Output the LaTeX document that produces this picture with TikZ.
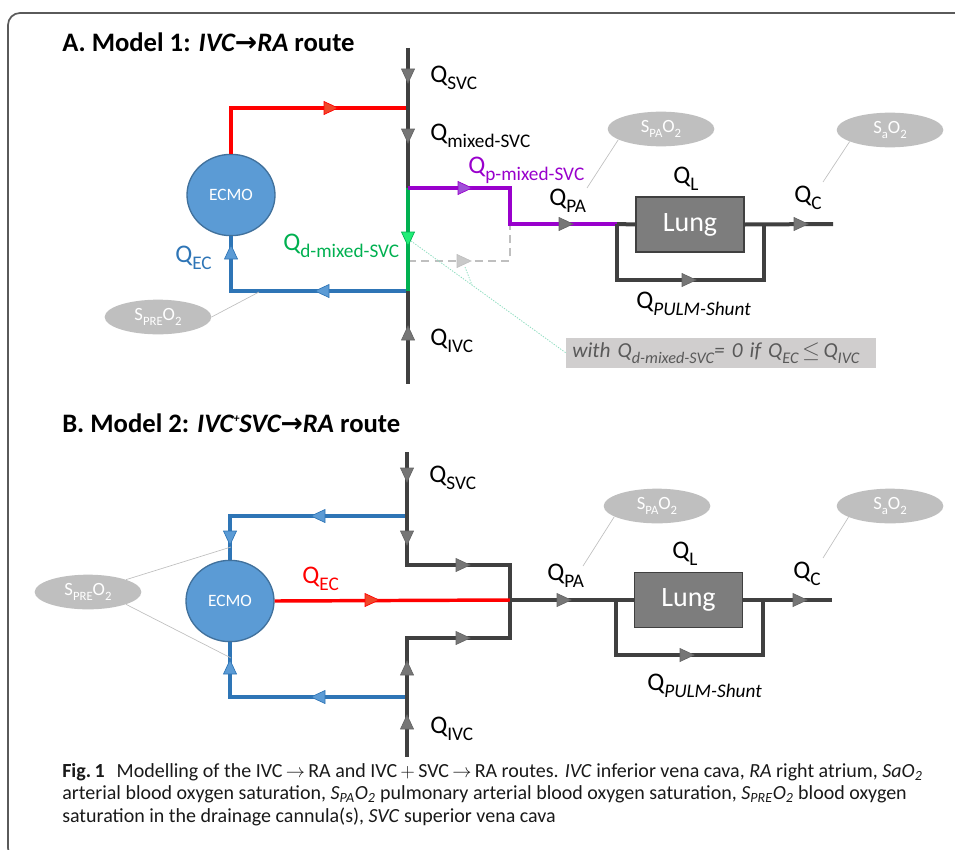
\documentclass[tikz,border=0pt]{standalone}
\usepackage{fontspec}
\setmainfont{Carlito}
\newfontfamily\symfont{DejaVu Sans}
\usepackage{graphicx}
\usepackage{tikz}
\usetikzlibrary{shapes.geometric,calc}
\definecolor{vesselgray}{HTML}{404040}
\definecolor{headgray}{HTML}{767676}
\definecolor{ecmored}{HTML}{FF0000}
\definecolor{redhead}{HTML}{F0472A}
\definecolor{drainblue}{HTML}{2E75B6}
\definecolor{ecmofill}{HTML}{5B9BD5}
\definecolor{ecmoedge}{HTML}{41719C}
\definecolor{mixpurple}{HTML}{9900CC}
\definecolor{purplehead}{HTML}{A050D8}
\definecolor{dgreen}{HTML}{00B050}
\definecolor{greenhead}{HTML}{22EE77}
\definecolor{bubble}{HTML}{BFBFBF}
\definecolor{ghostgray}{HTML}{BFBFBF}
\definecolor{notefill}{HTML}{D0CECE}
\definecolor{notetext}{HTML}{595959}
\definecolor{tealdot}{HTML}{8FDDC0}
\definecolor{framegray}{HTML}{5A5A5A}
\newcommand{\lowsub}[1]{\raisebox{-0.28em}{\scalebox{0.76}{#1}}}
\newcommand{\smallsub}[1]{\raisebox{-0.25em}{\scalebox{0.68}{#1}}}
\tikzset{
  vessel/.style={draw=vesselgray, line width=3pt},
  redline/.style={draw=ecmored, line width=2.6pt},
  blueline/.style={draw=drainblue, line width=2.6pt},
  purline/.style={draw=mixpurple, line width=2.8pt},
  greenline/.style={draw=dgreen, line width=2.8pt},
  ghost/.style={draw=ghostgray, line width=1.4pt, dash pattern=on 6pt off 4pt},
  leader/.style={draw=black!25, line width=0.5pt},
  tealline/.style={draw=tealdot, line width=0.6pt, dash pattern=on 1pt off 1pt},
  frameline/.style={draw=framegray, line width=1.3pt, rounded corners=9pt},
  greyhead/.style={fill=headgray, draw=vesselgray!80, line width=0.5pt},
  redtri/.style={fill=redhead, draw=ecmored, line width=0.5pt},
  bluetri/.style={fill=ecmofill, draw=drainblue, line width=0.5pt},
  purtri/.style={fill=purplehead, draw=mixpurple, line width=0.5pt},
  greentri/.style={fill=greenhead, draw=dgreen, line width=0.5pt},
  ghosttri/.style={fill=ghostgray!85, draw=ghostgray, line width=0.5pt},
  midtri/.pic={\filldraw[#1] (-7,-6.5) -- (7,0) -- (-7,6.5) -- cycle;},
  ecmo/.style={ellipse, fill=ecmofill, draw=ecmoedge, line width=1pt,
    minimum width=66pt, minimum height=61pt, inner sep=0pt, text=white,
    font=\fontsize{13}{15}\selectfont},
  lungbox/.style={rectangle, fill=headgray!95, draw=vesselgray, line width=1.2pt,
    minimum width=81pt, minimum height=41pt, inner sep=0pt, text=white,
    font=\fontsize{21}{24}\selectfont},
  satbub/.style={ellipse, fill=bubble, minimum width=80pt, minimum height=26pt,
    inner sep=0pt, text=white, font=\fontsize{14}{16}\selectfont},
  qlab/.style={anchor=base west, inner sep=0pt, font=\fontsize{19}{21}\selectfont},
  paneltitle/.style={anchor=base west, inner sep=0pt, font=\fontsize{20}{24}\selectfont\bfseries},
  notebox/.style={rectangle, fill=notefill, text=notetext, minimum height=22.5pt,
    text width=223pt, align=left, inner xsep=4.5pt, inner ysep=0pt,
    font=\fontsize{16}{18}\selectfont\itshape},
  capt/.style={anchor=north west, inner sep=0pt, align=left, text=black!90,
    font=\fontsize{15}{17}\selectfont},
}
\begin{document}
\begin{tikzpicture}[x=0.75pt, y=-0.75pt]
  \useasboundingbox (0,0) rectangle (955,849);
  \draw[frameline] (962,13) -- (8,13) -- (8,860) -- (40,860);

  % ---- A. Model 1
  \node[paneltitle] (aTitle) at (62,51) {A. Model 1: \textit{IVC{\symfont →}RA} route};
  \coordinate (aTop) at (408,48);
  \coordinate (aRed) at (408,108);
  \coordinate (aPur) at (408,188);
  \coordinate (aDash) at (408,261);
  \coordinate (aBlue) at (408,291);
  \coordinate (aBot) at (408,384);
  \coordinate (aKink) at (510,224);
  \coordinate (aSplit) at (617,224);
  \coordinate (aJoin) at (764,224);
  \coordinate (aEnd) at (833,224);
  \node[ecmo] (aEcmo) at (231,195) {ECMO};
  \node[lungbox] (aLung) at (690,224.5) {Lung};

  \draw[redline] (aRed) -| (aEcmo.north);
  \draw[blueline] (aBlue) -| (aEcmo.south);
  \draw[ghost] (aDash) -| (aKink);
  \draw[vessel] (aTop) -- (aPur);
  \draw[vessel] (aBlue) -- (aBot);
  \draw[greenline] (aPur) -- (aBlue);
  \draw[purline] (aPur) -| (aKink) -- (aSplit);
  \draw[vessel] (aSplit) -- (aLung.west);
  \draw[vessel] (aLung.east) -- (aEnd);
  \draw[vessel] (aSplit) -- ++(0,56) -| (aJoin);

  \pic[rotate=-90] at (408,76) {midtri=greyhead};
  \pic[rotate=-90] at (408,136) {midtri=greyhead};
  \pic[rotate=90] at (408,333) {midtri=greyhead};
  \pic[rotate=-90] at (408,239) {midtri=greentri};
  \pic at (331,108) {midtri=redtri};
  \pic[rotate=180] at (322,291) {midtri=bluetri};
  \pic[rotate=90] at (231,252) {midtri=bluetri};
  \pic at (465,188) {midtri=purtri};
  \pic at (464,261) {midtri=ghosttri};
  \pic at (566,224) {midtri=greyhead};
  \pic at (689,280) {midtri=greyhead};
  \pic at (801,224) {midtri=greyhead};

  \node[qlab] (aQsvc) at (430,82) {Q\lowsub{SVC}};
  \node[qlab] (aQmix) at (430,140) {Q\lowsub{mixed-SVC}};
  \node[qlab, text=mixpurple] (aQp) at (468,173) {Q\lowsub{p-mixed-SVC}};
  \node[qlab, text=dgreen] (aQd) at (283,250) {Q\lowsub{d-mixed-SVC}};
  \node[qlab, text=drainblue] (aQec) at (175,262) {Q\lowsub{EC}};
  \node[qlab] (aQivc) at (430,345) {Q\lowsub{IVC}};
  \node[qlab] (aQpa) at (549,205) {Q\lowsub{PA}};
  \node[qlab] (aQl) at (673,183) {Q\lowsub{L}};
  \node[qlab] (aQc) at (794,202) {Q\lowsub{C}};
  \node[qlab] (aQsh) at (636,308) {Q\lowsub{\textit{PULM-Shunt}}};

  \node[satbub] (aPre) at (158,317) {S\smallsub{PRE}O\smallsub{2}};
  \node[satbub] (aPa) at (661,129) {S\smallsub{PA}O\smallsub{2}};
  \node[satbub] (aSa) at (890,130) {S\smallsub{a}O\smallsub{2}};
  \coordinate (aPreTip) at (259,292);
  \coordinate (aPaTip) at (587,188);
  \coordinate (aSaTip) at (823,182);
  \draw[leader] (aPre.east) -- (aPreTip);
  \draw[leader] (aPa.194) -- (aPaTip);
  \draw[leader] (aSa.196) -- (aSaTip);

  \node[notebox] (aNote) at (721,353) {with Q\lowsub{d-mixed-SVC}= 0 if Q\lowsub{EC}\,$\leq$\,Q\lowsub{IVC}};
  \coordinate (aGreenTip) at (411,241);
  \coordinate (aGhostTip) at (465,267);
  \coordinate (aMeet) at (472,285);
  \draw[tealline] (aGreenTip) -- (aNote.west);
  \draw[tealline] (aGhostTip) -- (aMeet);

  % ---- B. Model 2
  \node[paneltitle] (bTitle) at (62,432) {B. Model 2: \textit{IVC\raisebox{0.35em}{\scalebox{0.45}{+}}SVC{\symfont →}RA} route};
  \coordinate (bTop) at (407,452);
  \coordinate (bBlueUp) at (407,516);
  \coordinate (bUpTurn) at (407,565);
  \coordinate (bUpEnd) at (510,565);
  \coordinate (bMerge) at (510,600);
  \coordinate (bLoEnd) at (510,638);
  \coordinate (bLoTurn) at (407,638);
  \coordinate (bBlueLo) at (407,697);
  \coordinate (bBot) at (407,757);
  \coordinate (bSplit) at (616,600);
  \coordinate (bJoin) at (763,600);
  \coordinate (bEnd) at (832,600);
  \node[ecmo] (bEcmo) at (230,601) {ECMO};
  \node[lungbox] (bLung) at (688.5,600) {Lung};

  \draw[blueline] (bBlueUp) -| (bEcmo.north);
  \draw[blueline] (bBlueLo) -| (bEcmo.south);
  \draw[vessel] (bTop) -- (bUpTurn) -- (bUpEnd) -- (bLoEnd) -- (bLoTurn) -- (bBot);
  \draw[redline] (bEcmo.east) -- (bMerge);
  \draw[vessel] (bMerge) -- (bLung.west);
  \draw[vessel] (bLung.east) -- (bEnd);
  \draw[vessel] (bSplit) -- ++(0,55) -| (bJoin);

  \pic[rotate=-90] at (407,475) {midtri=greyhead};
  \pic[rotate=-90] at (407,538) {midtri=greyhead};
  \pic[rotate=90] at (407,668) {midtri=greyhead};
  \pic[rotate=90] at (407,722) {midtri=greyhead};
  \pic at (463,565) {midtri=greyhead};
  \pic at (463,638) {midtri=greyhead};
  \pic[rotate=180] at (318,516) {midtri=bluetri};
  \pic[rotate=180] at (318,697) {midtri=bluetri};
  \pic[rotate=-90] at (230,538) {midtri=bluetri};
  \pic[rotate=90] at (230,667) {midtri=bluetri};
  \pic at (372,600) {midtri=redtri};
  \pic at (564,600) {midtri=greyhead};
  \pic at (687,655) {midtri=greyhead};
  \pic at (800,600) {midtri=greyhead};

  \node[qlab] (bQsvc) at (429,482) {Q\lowsub{SVC}};
  \node[qlab] (bQivc) at (430,733) {Q\lowsub{IVC}};
  \node[qlab, text=ecmored] (bQec) at (302,583) {Q\lowsub{EC}};
  \node[qlab] (bQpa) at (547,580) {Q\lowsub{PA}};
  \node[qlab] (bQl) at (672,558) {Q\lowsub{L}};
  \node[qlab] (bQc) at (793,578) {Q\lowsub{C}};
  \node[qlab] (bQsh) at (647,690) {Q\lowsub{\textit{PULM-Shunt}}};

  \node[satbub] (bPre) at (88,592) {S\smallsub{PRE}O\smallsub{2}};
  \node[satbub] (bPa) at (657,506) {S\smallsub{PA}O\smallsub{2}};
  \node[satbub] (bSa) at (890,506) {S\smallsub{a}O\smallsub{2}};
  \coordinate (bPreTipUp) at (231,547);
  \coordinate (bPreTipLo) at (231,658);
  \coordinate (bPaTip) at (583,566);
  \coordinate (bSaTip) at (823,558);
  \draw[leader] (bPre.18) -- (bPreTipUp);
  \draw[leader] (bPre.342) -- (bPreTipLo);
  \draw[leader] (bPa.194) -- (bPaTip);
  \draw[leader] (bSa.195) -- (bSaTip);

  % ---- caption
  \node[capt] (caption) at (62,763) {\textbf{Fig.\,1}\hspace{0.6em}Modelling of the IVC$\,\rightarrow\,$RA and IVC$\,+\,$SVC$\,\rightarrow\,$RA routes. \textit{IVC} inferior vena cava, \textit{RA} right atrium, \textit{SaO\textsubscript{2}}\\
    arterial blood oxygen saturation, \textit{S\textsubscript{PA}O\textsubscript{2}} pulmonary arterial blood oxygen saturation, \textit{S\textsubscript{PRE}O\textsubscript{2}} blood oxygen\\
    saturation in the drainage cannula(s), \textit{SVC} superior vena cava};
\end{tikzpicture}
\end{document}
